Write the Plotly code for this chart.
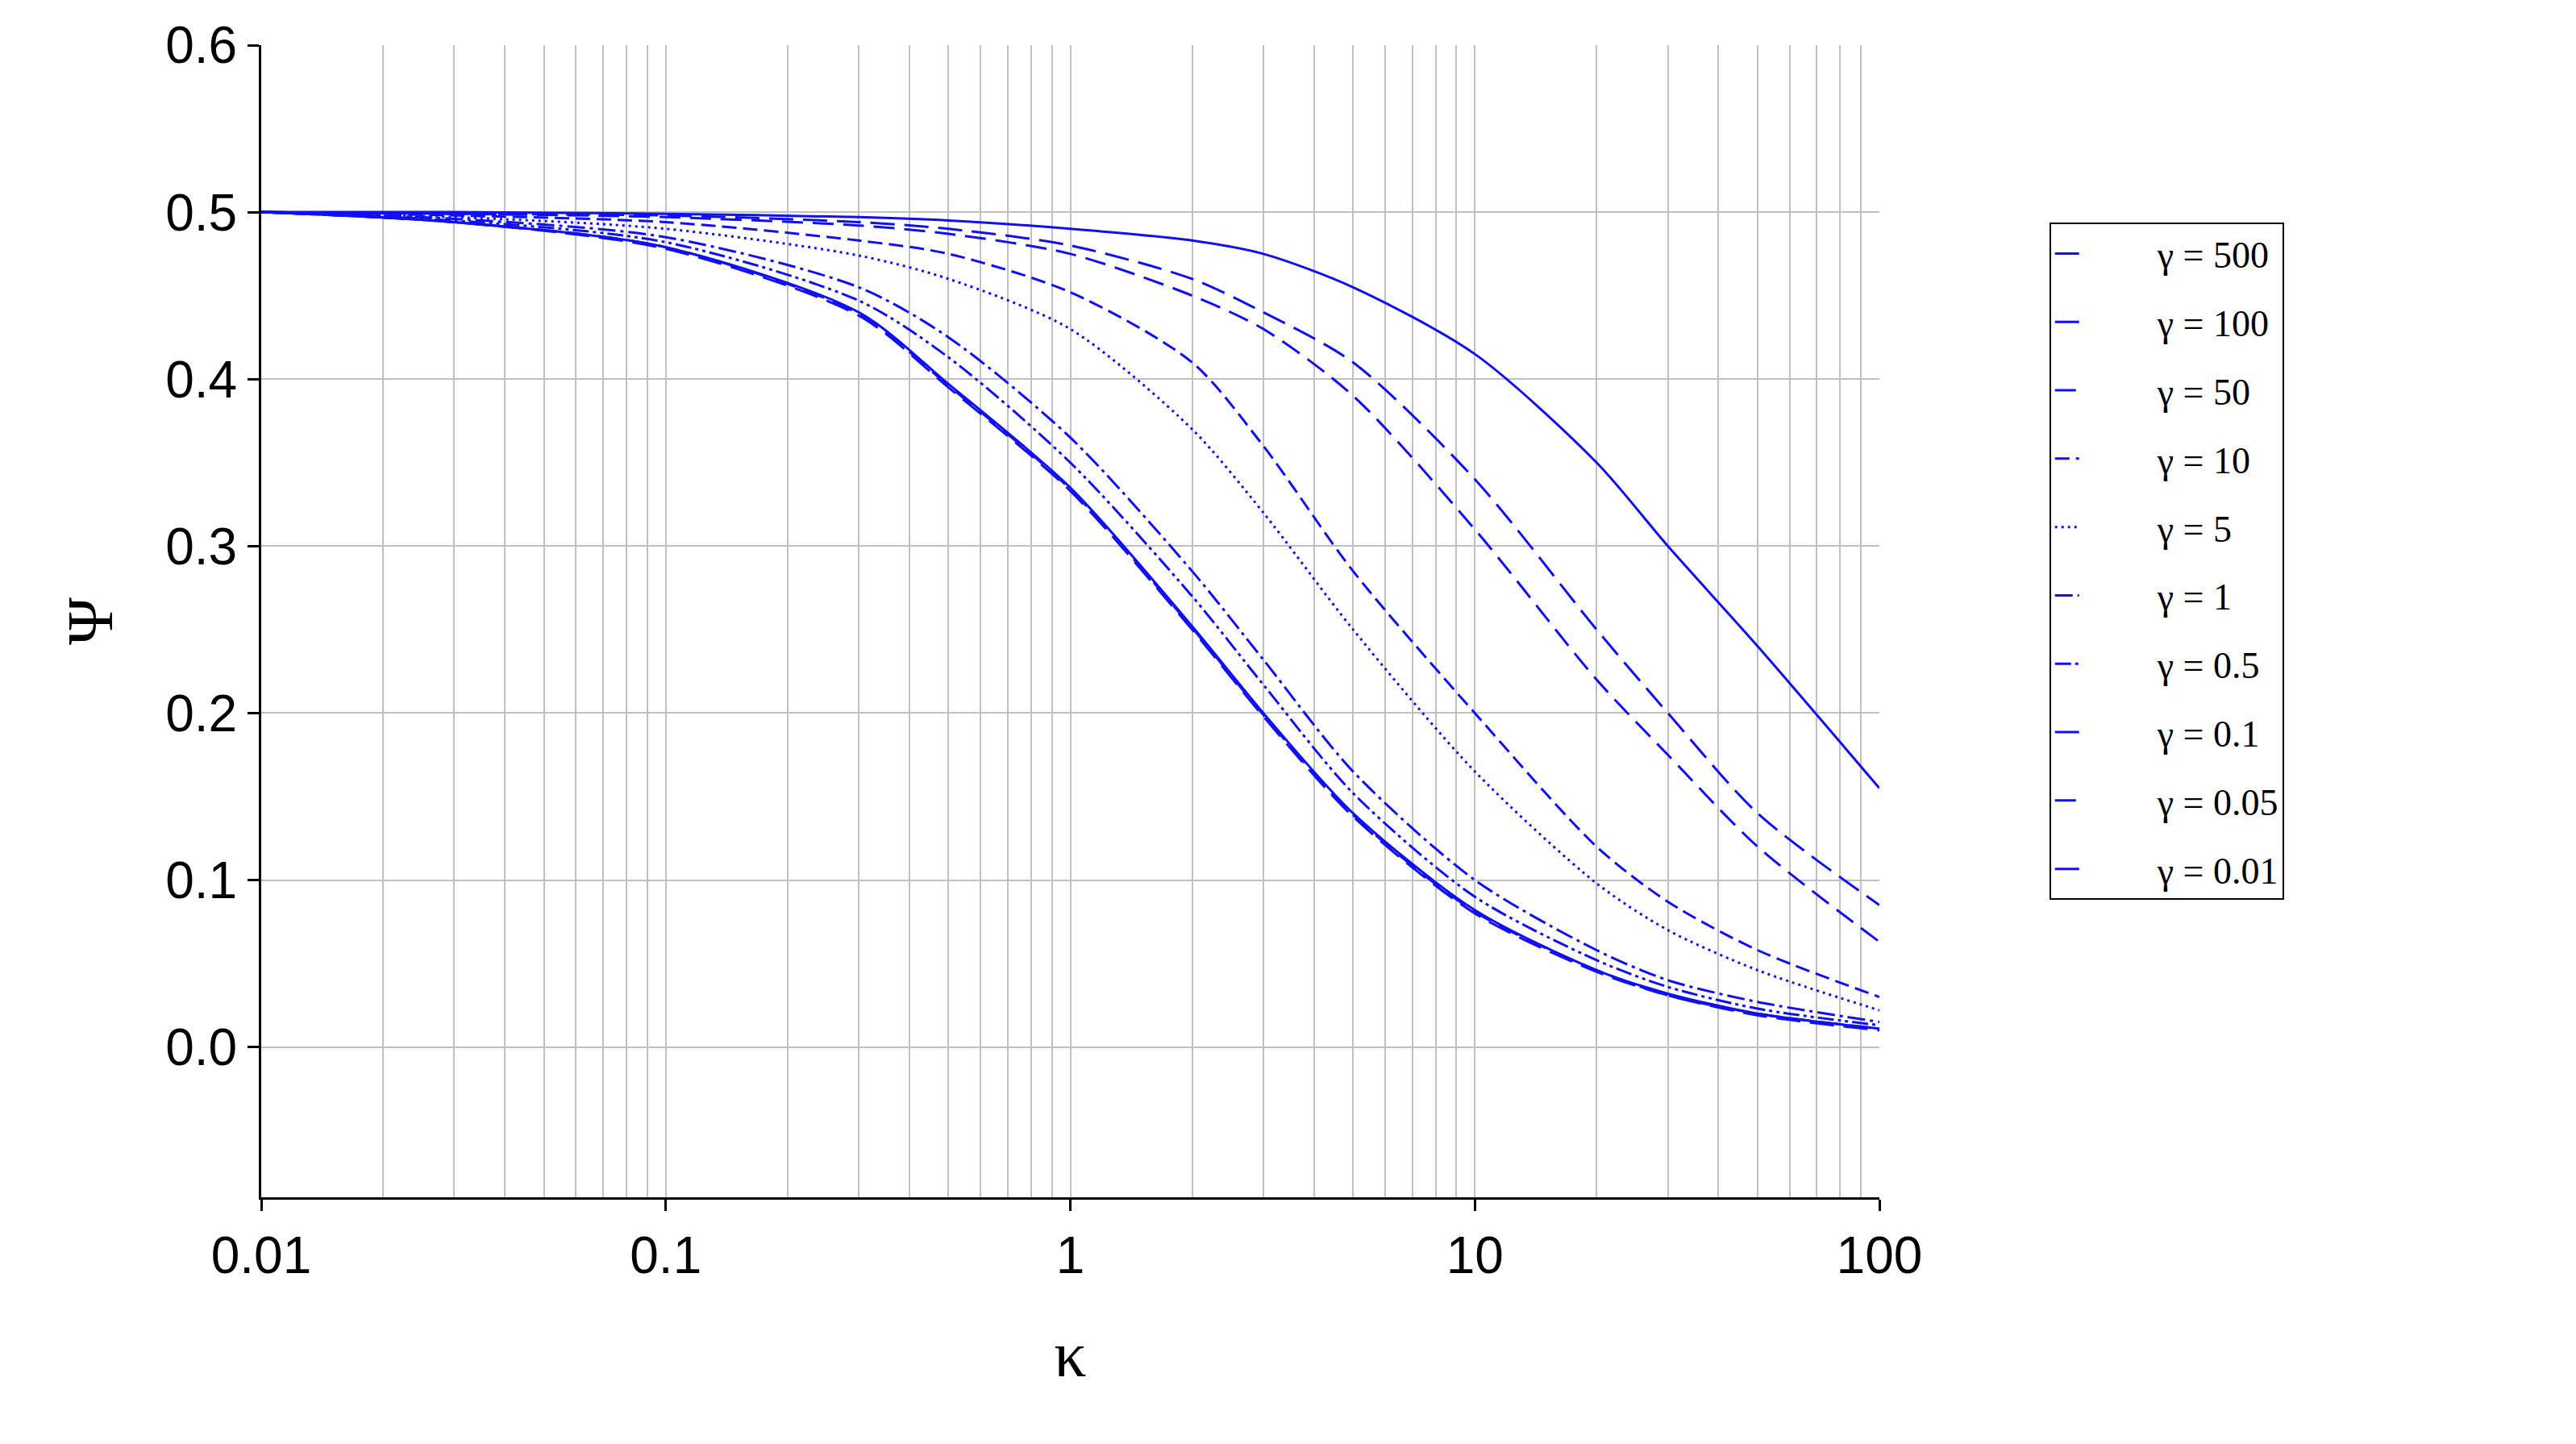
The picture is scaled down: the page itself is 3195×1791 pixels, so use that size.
import plotly.graph_objects as go

kappa = [0.01, 0.03, 0.1, 0.3, 0.5, 1, 2, 3, 5, 10, 20, 30, 50, 100]

gamma_labels = ["γ = 500", "γ = 100", "γ = 50", "γ = 10", "γ = 5",
                "γ = 1", "γ = 0.5", "γ = 0.1", "γ = 0.05", "γ = 0.01"]

psi_500 = [0.5, 0.5, 0.499, 0.497, 0.495, 0.49, 0.483, 0.475, 0.455, 0.415, 0.35, 0.30, 0.24, 0.155]
psi_100 = [0.5, 0.499, 0.498, 0.494, 0.49, 0.48, 0.46, 0.44, 0.41, 0.34, 0.25, 0.20, 0.14, 0.085]
psi_50 = [0.5, 0.499, 0.497, 0.492, 0.487, 0.475, 0.45, 0.43, 0.39, 0.31, 0.22, 0.175, 0.12, 0.063]
psi_10 = [0.5, 0.498, 0.494, 0.483, 0.475, 0.452, 0.41, 0.36, 0.285, 0.20, 0.12, 0.087, 0.058, 0.03]
psi_5 = [0.5, 0.497, 0.49, 0.474, 0.46, 0.43, 0.37, 0.32, 0.25, 0.165, 0.098, 0.07, 0.046, 0.022]
psi_1 = [0.5, 0.496, 0.485, 0.455, 0.425, 0.365, 0.285, 0.232, 0.165, 0.10, 0.058, 0.04, 0.027, 0.015]
psi_05 = [0.5, 0.495, 0.482, 0.447, 0.413, 0.35, 0.27, 0.217, 0.152, 0.09, 0.052, 0.036, 0.023, 0.013]
psi_01 = [0.5, 0.494, 0.479, 0.44, 0.397, 0.335, 0.252, 0.2, 0.14, 0.082, 0.046, 0.032, 0.02, 0.011]
psi_005 = [0.5, 0.494, 0.479, 0.439, 0.396, 0.334, 0.251, 0.199, 0.139, 0.081, 0.046, 0.031, 0.02, 0.011]
psi_001 = [0.5, 0.494, 0.478, 0.438, 0.395, 0.333, 0.25, 0.198, 0.138, 0.08, 0.045, 0.031, 0.019, 0.01]

series = [psi_500, psi_100, psi_50, psi_10, psi_5, psi_1, psi_05, psi_01, psi_005, psi_001]
dashes = ["solid", "30px,12px", "26px,12px", "18px,8px", "3px,5px",
          "22px,6px,4px,6px", "20px,5px,4px,5px,4px,5px", "solid", "26px,12px", "30px,12px"]

# minor log gridlines at 2..9 of each decade
minor_vals = [m * 10.0 ** e for e in range(-2, 2) for m in range(2, 10)]

fig = go.Figure()
for i, (lab, ys, d) in enumerate(zip(gamma_labels, series, dashes)):
    fig.add_trace(go.Scatter(
        x=kappa, y=ys, name="\u2003\u2003" + lab, mode="lines",
        legendgroup=f"g{i}",
        line=dict(color="#1010f0", width=3, dash=d, shape="spline", smoothing=0.8),
    ))

fig.update_layout(
    width=3195, height=1791,
    plot_bgcolor="white", paper_bgcolor="white",
    margin=dict(l=316, r=872, t=45, b=314),
    font=dict(family="Arial", size=64, color="black"),
    showlegend=True,
    legend=dict(
        x=1.105, y=0.846, xanchor="left", yanchor="top",
        bordercolor="black", borderwidth=2,
        font=dict(family="Liberation Serif", size=46),
        tracegroupgap=22,
    ),
    xaxis=dict(
        type="log", range=[-2, 2],
        tickvals=[0.01, 0.1, 1, 10, 100], ticktext=["0.01", "0.1", "1", "10", "100"],
        showgrid=True, gridcolor="#c0c0c0", gridwidth=2,
        minor=dict(tickvals=minor_vals, showgrid=True, gridcolor="#c0c0c0", gridwidth=2),
        showline=True, linecolor="black", linewidth=3,
        ticks="outside", ticklen=14, tickwidth=3, tickcolor="black",
        title=dict(text="κ", font=dict(family="Liberation Serif", size=80), standoff=60),
        zeroline=False,
    ),
    yaxis=dict(
        range=[-0.09, 0.6],
        tickvals=[0, 0.1, 0.2, 0.3, 0.4, 0.5, 0.6], tickformat=".1f",
        showgrid=True, gridcolor="#c0c0c0", gridwidth=2,
        showline=True, linecolor="black", linewidth=3,
        ticks="outside", ticklen=14, tickwidth=3, tickcolor="black",
        title=dict(text="Ψ", font=dict(family="Liberation Serif", size=80), standoff=40),
        zeroline=False,
    ),
)

fig.write_html("out.html")
